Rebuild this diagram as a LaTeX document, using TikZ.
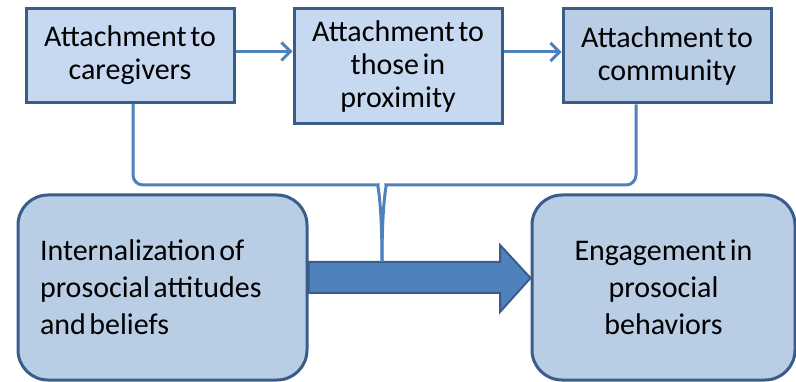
\documentclass[tikz,border=0pt]{standalone}
\usepackage{xcolor}
\usepackage{fontspec}
\setmainfont{Carlito}
\usepackage{tikz}
\usetikzlibrary{
calc,
positioning,
arrows.meta
}
\definecolor{paleblue}{HTML}{C6D9F1}
\definecolor{softblue}{HTML}{B9CDE5}
\definecolor{edgeblue}{HTML}{385D8A}
\definecolor{lineblue}{HTML}{4F81BD}
\newcommand{\tightwords}{\spaceskip=0.12em\relax}

\tikzset{
stagebox/.style={
draw=edgeblue,
line width=3pt,
fill=paleblue,
minimum width=208pt,
align=center,
font=\fontsize{30}{33}\selectfont\tightwords
},
outcomebox/.style={
draw=edgeblue,
line width=3pt,
fill=softblue,
rounded corners=30pt,
minimum width=289pt,
minimum height=185pt,
font=\fontsize{30}{37}\selectfont\tightwords
},
link/.style={
draw=lineblue,
line width=3pt,
-{Straight Barb[length=9pt,width=18pt,line width=3pt]}
},
brace/.style={
draw=lineblue,
line width=3pt,
rounded corners=10pt
}
}

\begin{document}
\begin{tikzpicture}[x=1pt,y=-1pt]
\useasboundingbox (0,0) rectangle (796,382);

% attachment stages
\node[
stagebox,
minimum height=94pt
]
(care) at (130,55.5)
{
Attachment to\\caregivers
};

\node[
stagebox,
minimum height=115pt
]
(near) at (398,66.5)
{
Attachment to\\those in\\proximity
};

\node[
stagebox,
fill=softblue,
minimum height=94pt
]
(comm) at (667,56)
{
Attachment to\\community
};

\draw[link] ([yshift=4pt]care.east) -- ([yshift=4pt]care.east -| near.west);
\draw[link] ([yshift=4pt]comm.west -| near.east) -- ([yshift=4pt]comm.west);

% outcomes
\node[
outcomebox,
align=left,
text width=245pt,
inner xsep=22pt
]
(inner) at (162.5,287.5)
{
\tightwords Internalization of\\prosocial attitudes\\and beliefs
};

\node[
outcomebox,
minimum width=263pt,
align=center
]
(engage) at (663.5,287.5)
{
Engagement in\\prosocial\\behaviors
};

% thick arrow between outcomes
\draw[
draw=edgeblue,
line width=2pt,
fill=lineblue
]
(inner.east |- 0,262) -- (500,262) -- (500,245) -- (engage.west |- 0,278)
-- (500,312) -- (500,293) -- (inner.east |- 0,293) -- cycle;

% brace joining the stages
\coordinate (join) at (382,262);
\draw[brace] ([xshift=3pt]care.south) |- (368,185)
.. controls (377,185) and (382,198) .. (join);
\draw[brace] ([xshift=-31pt]comm.south) |- (396,185)
.. controls (387,185) and (382,198) .. (join);

\end{tikzpicture}
\end{document}
